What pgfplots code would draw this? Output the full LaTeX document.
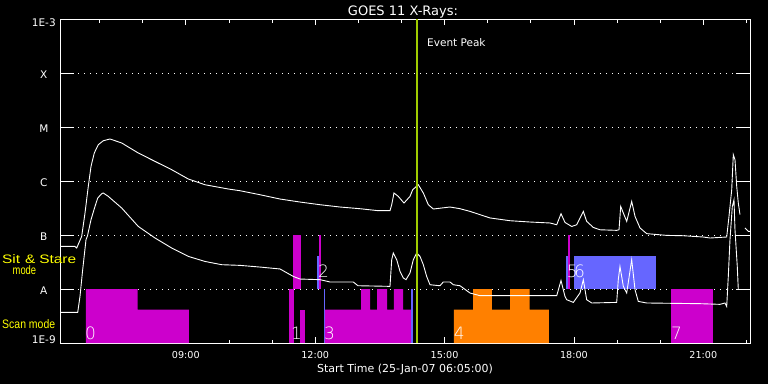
\documentclass[border=0pt]{standalone}
\usepackage{pgfplots}
\pgfplotsset{compat=1.18}
\usepackage{fontspec}
\setmainfont{DejaVu Sans}
\newfontfamily\thinfont{DejaVu Sans ExtraLight}
\newfontfamily\labfont{Liberation Sans}
\definecolor{mag}{RGB}{204,0,204}
\definecolor{lav}{RGB}{102,102,255}
\definecolor{org}{RGB}{255,128,0}
\definecolor{peak}{RGB}{160,205,0}
\definecolor{yel}{RGB}{255,255,0}
\pgfplotsset{
  goesbase/.style={
    at={(60pt,41pt)}, anchor=south west,
    width=690pt, height=324pt, scale only axis,
    xmin=6.0833, xmax=22.0833,
    ymin=1e-9, ymax=1e-3,
    yminorticks=false,
    axis line style={white, line width=0.8pt},
    tick style={white, line width=0.8pt},
    tick align=inside,
  },
}
\tikzset{digit/.style={white, inner sep=0pt, anchor=base west, xshift=-1pt, font=\thinfont\fontsize{17}{17}\selectfont},
  ylab/.style={yel, anchor=base west, inner sep=0pt, font=\labfont\fontsize{12.3}{14}\selectfont}}
\begin{document}
\begin{tikzpicture}
\fill[black] (0pt,0pt) rectangle (768pt,384pt);
\useasboundingbox (0pt,0pt) rectangle (768pt,384pt);
% y ticks and grid
\begin{axis}[ymode=log, goesbase,
  xtick=\empty,
  ytick={1e-9,1e-8,1e-7,1e-6,1e-5,1e-4,1e-3},
  yticklabels={\raisebox{4.5pt}{1E-9},A,B,C,M,X,\raisebox{-2.5pt}{1E-3}},
  major tick length=14pt,
  ymajorgrids,
  grid style={white, line width=0.8pt, dash pattern=on 0.8pt off 5.2pt},
  yticklabel style={white, anchor=east, inner sep=0pt, xshift=-3pt, yshift=-1.5pt,
    text width=26pt, align=center, text height=7.5pt, text depth=0pt,
    font=\fontsize{10.5}{12}\selectfont},
]
\end{axis}
% data
\begin{axis}[ymode=log, goesbase,
  ytick=\empty,
  xtick={9,12,15,18,21},
  xticklabels={09:00,12:00,15:00,18:00,21:00},
  minor xtick={7,8,10,11,13,14,16,17,19,20,22},
  major tick length=6pt, minor tick length=3.5pt,
  xticklabel style={white, anchor=north, inner sep=0pt, yshift=-8pt,
    font=\fontsize{9.6}{11}\selectfont},
]
% mode bars: scan mode (1e-9 .. 1e-8), sit & stare (1e-8 .. 1e-7)
\addplot[fill=mag, draw=none] coordinates {(6.686,1e-9)(6.686,1e-8)(7.885,1e-8)(7.885,4.14e-9)(9.074,4.14e-9)(9.074,1e-9)} -- cycle;
\addplot[fill=mag, draw=none] coordinates {(11.393,1e-9)(11.393,1e-8)(11.502,1e-8)(11.502,1e-9)} -- cycle;
\addplot[fill=mag, draw=none] coordinates {(11.486,1e-8)(11.486,1e-7)(11.672,1e-7)(11.672,1e-8)} -- cycle;
\addplot[fill=mag, draw=none] coordinates {(11.648,1e-9)(11.648,4.14e-9)(11.764,4.14e-9)(11.764,1e-9)} -- cycle;
\addplot[fill=lav, draw=none] coordinates {(12.043,1e-8)(12.043,4.14e-8)(12.089,4.14e-8)(12.089,1e-8)} -- cycle;
\addplot[fill=mag, draw=none] coordinates {(12.089,1e-8)(12.089,1e-7)(12.135,1e-7)(12.135,1e-8)} -- cycle;
\addplot[fill=lav, draw=none] coordinates {(12.197,1e-9)(12.197,1e-8)(12.228,1e-8)(12.228,1e-9)} -- cycle;
\addplot[fill=mag, draw=none] coordinates {(12.228,1e-9)(12.228,4.14e-9)(13.063,4.14e-9)(13.063,1e-8)(13.272,1e-8)(13.272,4.14e-9)(13.434,4.14e-9)(13.434,1e-8)(13.666,1e-8)(13.666,4.14e-9)(13.828,4.14e-9)(13.828,1e-8)(14.037,1e-8)(14.037,4.14e-9)(14.222,4.14e-9)(14.222,1e-9)} -- cycle;
\addplot[fill=lav, draw=none] coordinates {(14.222,1e-9)(14.222,1e-8)(14.269,1e-8)(14.269,1e-9)} -- cycle;
\addplot[fill=org, draw=none] coordinates {(15.219,1e-9)(15.219,4.14e-9)(15.660,4.14e-9)(15.660,1e-8)(16.100,1e-8)(16.100,4.14e-9)(16.518,4.14e-9)(16.518,1e-8)(16.974,1e-8)(16.974,4.14e-9)(17.422,4.14e-9)(17.422,1e-9)} -- cycle;
\addplot[fill=lav, draw=none] coordinates {(17.816,1e-8)(17.816,4.14e-8)(17.863,4.14e-8)(17.863,1e-8)} -- cycle;
\addplot[fill=mag, draw=none] coordinates {(17.863,1e-8)(17.863,1e-7)(17.909,1e-7)(17.909,1e-8)} -- cycle;
\addplot[fill=lav, draw=none] coordinates {(18.002,1e-8)(18.002,4.14e-8)(19.903,4.14e-8)(19.903,1e-8)} -- cycle;
\addplot[fill=mag, draw=none] coordinates {(20.251,1e-9)(20.251,1e-8)(21.225,1e-8)(21.225,1e-9)} -- cycle;
% GOES long channel
\addplot[white, line width=0.9pt, sharp plot] coordinates {
(6.083,6.15e-8)(6.431,6.15e-8)(6.470,5.74e-8)(6.586,9.42e-8)(6.663,2.55e-7)(6.739,7.94e-7)(6.802,1.86e-6)(6.878,3.30e-6)(6.971,4.70e-6)(7.087,5.57e-6)(7.243,6.0e-6)(7.514,5.06e-6)(7.899,3.30e-6)(8.286,2.31e-6)(8.673,1.62e-6)(9.058,1.09e-6)(9.445,8.53e-7)(9.986,7.11e-7)(10.257,6.61e-7)(10.721,5.57e-7)(11.185,4.64e-7)(11.648,4.08e-7)(12.112,3.64e-7)(12.576,3.30e-7)(13.040,3.07e-7)(13.464,2.82e-7)(13.735,2.82e-7)(13.775,3.64e-7)(13.828,6.0e-7)(13.928,5.19e-7)(14.060,3.91e-7)(14.199,5.19e-7)(14.262,6.90e-7)(14.392,8.53e-7)(14.508,6.0e-7)(14.624,3.64e-7)(14.740,3.03e-7)(15.127,3.30e-7)(15.359,3.07e-7)(15.590,2.74e-7)(16.054,2.07e-7)(16.518,1.84e-7)(16.982,1.74e-7)(17.446,1.67e-7)(17.601,1.55e-7)(17.701,2.48e-7)(17.793,1.71e-7)(17.949,1.44e-7)(18.065,1.55e-7)(18.218,2.74e-7)(18.296,1.79e-7)(18.450,1.38e-7)(18.605,1.25e-7)(18.992,1.22e-7)(19.046,1.25e-7)(19.085,3.39e-7)(19.146,2.55e-7)(19.224,1.79e-7)(19.340,4.19e-7)(19.417,2.21e-7)(19.533,1.35e-7)(19.688,1.06e-7)(20.151,9.84e-8)(20.537,9.7e-8)(21.000,9.18e-8)(21.156,8.8e-8)(21.543,9.18e-8)(21.596,2.21e-7)(21.659,6.90e-7)(21.696,3.07e-6)(21.735,2.48e-6)(21.775,7.94e-7)(21.812,3.91e-7)(21.851,2.38e-7)
};
\addplot[white, line width=0.9pt, sharp plot] coordinates {(21.967,1.35e-7)(22.044,1.17e-7)(22.083,1.17e-7)};
% GOES short channel
\addplot[white, line width=0.9pt, sharp plot] coordinates {
(6.083,3.69e-9)(6.494,3.69e-9)(6.547,7.29e-9)(6.601,1.98e-8)(6.686,8.18e-8)(6.721,9.7e-8)(6.802,1.92e-7)(6.895,3.39e-7)(6.958,4.84e-7)(7.050,5.82e-7)(7.087,6.0e-7)(7.203,5.19e-7)(7.514,3.16e-7)(7.899,1.44e-7)(8.286,8.8e-8)(8.673,5.74e-8)(9.058,4.02e-8)(9.445,3.24e-8)(9.833,2.82e-8)(10.257,2.74e-8)(10.721,2.55e-8)(11.185,2.35e-8)(11.493,1.71e-8)(11.648,1.53e-8)(12.112,1.49e-8)(12.344,1.35e-8)(12.884,1.35e-8)(12.993,1.15e-8)(13.735,1.12e-8)(13.775,3.49e-8)(13.812,4.64e-8)(13.891,3.49e-8)(13.968,2.12e-8)(14.044,1.60e-8)(14.107,1.49e-8)(14.199,1.98e-8)(14.276,3.49e-8)(14.354,4.64e-8)(14.431,4.02e-8)(14.508,2.82e-8)(14.586,1.71e-8)(14.663,1.20e-8)(14.895,1.15e-8)(14.971,1.35e-8)(15.127,1.35e-8)(15.203,1.20e-8)(15.359,1.15e-8)(15.590,8.43e-9)(15.822,7.52e-9)(17.601,7.52e-9)(17.701,1.44e-8)(17.793,7.29e-9)(17.833,6.34e-9)(17.986,5.65e-9)(18.141,8.43e-9)(18.218,1.49e-8)(18.296,6.34e-9)(18.413,5.51e-9)(18.992,5.65e-9)(19.029,1.49e-8)(19.068,2.62e-8)(19.146,1.12e-8)(19.224,8.43e-9)(19.340,3.49e-8)(19.417,9.7e-9)(19.493,5.89e-9)(19.688,5.51e-9)(20.924,5.35e-9)(21.387,5.2e-9)(21.503,5.51e-9)(21.543,4.76e-9)(21.580,1.71e-8)(21.619,8.18e-8)(21.673,3.39e-7)(21.712,4.51e-7)(21.735,1.25e-7)(21.788,2.62e-8)(21.812,9.7e-9)
};
% event peak
\addplot[peak, line width=2.2pt] coordinates {(14.354,1e-9)(14.354,1e-3)};
% mode numbers
\node[digit] at (axis cs:6.686,1.186e-9) {0};
\node[digit] at (axis cs:11.463,1.186e-9) {1};
\node[digit] at (axis cs:12.228,1.186e-9) {3};
\node[digit] at (axis cs:15.235,1.186e-9) {4};
\node[digit] at (axis cs:20.274,1.186e-9) {7};
\node[digit] at (axis cs:12.089,1.64e-8) {2};
\node[digit] at (axis cs:17.856,1.64e-8) {5};
\node[digit] at (axis cs:18.025,1.64e-8) {6};
\end{axis}
% texts
\node[white, anchor=base, inner sep=0pt, font=\fontsize{13}{15}\selectfont] at (403pt,369pt) {GOES 11 X-Rays:};
\node[white, anchor=base, inner sep=0pt, font=\fontsize{11}{13}\selectfont] at (405pt,11.7pt) {Start Time (25-Jan-07 06:05:00)};
\node[white, anchor=base west, inner sep=0pt, font=\fontsize{10.5}{12}\selectfont] at (427pt,337.3pt) {Event Peak};
\node[ylab] at (2pt,120.7pt) {\resizebox{74pt}{\height}{Sit\hspace{4pt}\&\hspace{3pt}Stare}};
\node[ylab] at (12.5pt,109.7pt) {\resizebox{23.5pt}{\height}{mode}};
\node[ylab] at (2pt,55.7pt) {\resizebox{53pt}{\height}{Scan mode}};
\end{tikzpicture}
\end{document}
